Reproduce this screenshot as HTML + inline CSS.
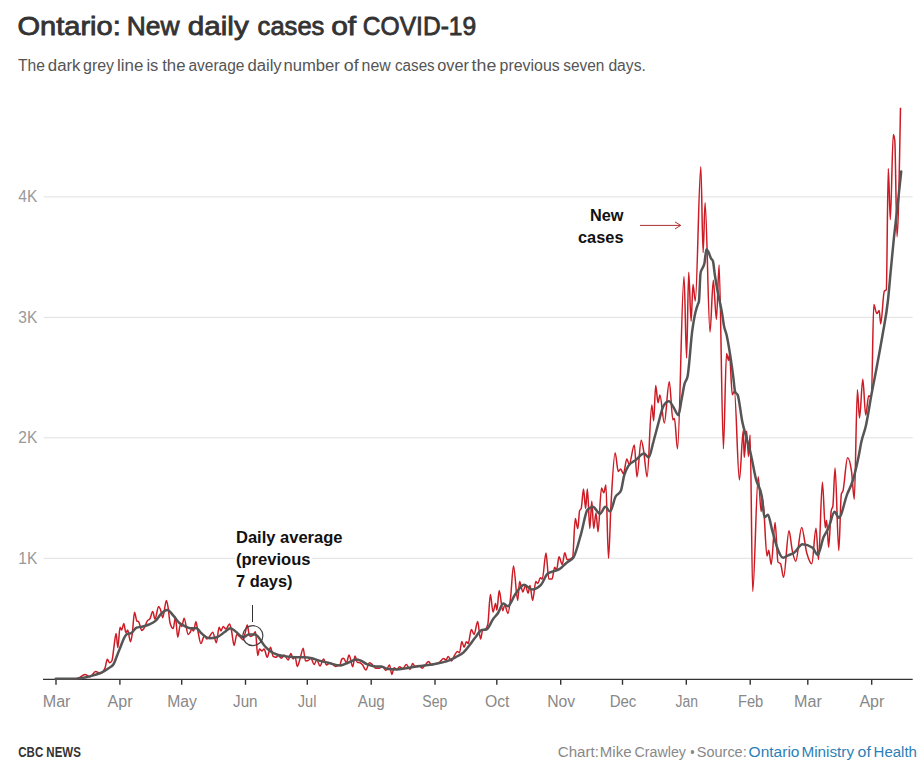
<!DOCTYPE html>
<html><head><meta charset="utf-8">
<style>
html,body{margin:0;padding:0;background:#fff;width:922px;height:770px;overflow:hidden;}
svg{position:absolute;left:0;top:0;}
text{font-family:"Liberation Sans",sans-serif;}
</style></head><body>
<svg width="922" height="770" viewBox="0 0 922 770">
 <g font-weight="normal" fill="#333" stroke="#333" stroke-width="0.8"><text x="17.5" y="34.7" font-size="26" textLength="103.3" lengthAdjust="spacingAndGlyphs">Ontario:</text><text x="126.8" y="34.7" font-size="26" textLength="52.8" lengthAdjust="spacingAndGlyphs">New</text><text x="187.8" y="34.7" font-size="26" textLength="61.0" lengthAdjust="spacingAndGlyphs">daily</text><text x="257.6" y="34.7" font-size="26" textLength="66.8" lengthAdjust="spacingAndGlyphs">cases</text><text x="331.2" y="34.7" font-size="26" textLength="25.0" lengthAdjust="spacingAndGlyphs">of</text><text x="362.8" y="34.7" font-size="26" textLength="113.4" lengthAdjust="spacingAndGlyphs">COVID-19</text></g>
 <g fill="#555"><text x="18.0" y="70.8" font-size="16" textLength="26.9" lengthAdjust="spacingAndGlyphs">The</text><text x="47.8" y="70.8" font-size="16" textLength="32.7" lengthAdjust="spacingAndGlyphs">dark</text><text x="83.0" y="70.8" font-size="16" textLength="31.1" lengthAdjust="spacingAndGlyphs">grey</text><text x="117.0" y="70.8" font-size="16" textLength="26.3" lengthAdjust="spacingAndGlyphs">line</text><text x="146.4" y="70.8" font-size="16" textLength="11.9" lengthAdjust="spacingAndGlyphs">is</text><text x="162.2" y="70.8" font-size="16" textLength="23.3" lengthAdjust="spacingAndGlyphs">the</text><text x="188.4" y="70.8" font-size="16" textLength="56.1" lengthAdjust="spacingAndGlyphs">average</text><text x="247.4" y="70.8" font-size="16" textLength="34.3" lengthAdjust="spacingAndGlyphs">daily</text><text x="283.4" y="70.8" font-size="16" textLength="56.5" lengthAdjust="spacingAndGlyphs">number</text><text x="343.8" y="70.8" font-size="16" textLength="14.9" lengthAdjust="spacingAndGlyphs">of</text><text x="361.6" y="70.8" font-size="16" textLength="29.1" lengthAdjust="spacingAndGlyphs">new</text><text x="395" y="70.8" font-size="16" textLength="39.7" lengthAdjust="spacingAndGlyphs">cases</text><text x="437.2" y="70.8" font-size="16" textLength="31.7" lengthAdjust="spacingAndGlyphs">over</text><text x="471.6" y="70.8" font-size="16" textLength="24.7" lengthAdjust="spacingAndGlyphs">the</text><text x="499.6" y="70.8" font-size="16" textLength="60.1" lengthAdjust="spacingAndGlyphs">previous</text><text x="563.2" y="70.8" font-size="16" textLength="41.1" lengthAdjust="spacingAndGlyphs">seven</text><text x="608.4" y="70.8" font-size="16" textLength="37.5" lengthAdjust="spacingAndGlyphs">days.</text></g>
 <g stroke="#e0e0e0" stroke-width="1">
  <line x1="43.5" y1="196.9" x2="912.7" y2="196.9"/>
  <line x1="43.5" y1="317.4" x2="912.7" y2="317.4"/>
  <line x1="43.5" y1="437.8" x2="912.7" y2="437.8"/>
  <line x1="43.5" y1="558.3" x2="912.7" y2="558.3"/>
 </g>
 <g fill="#999" text-anchor="end">
  <text x="37.3" y="201.6" font-size="16.3" textLength="19" lengthAdjust="spacingAndGlyphs">4K</text>
  <text x="37.3" y="322.8" font-size="16.3" textLength="19" lengthAdjust="spacingAndGlyphs">3K</text>
  <text x="37.3" y="442.9" font-size="16.3" textLength="19" lengthAdjust="spacingAndGlyphs">2K</text>
  <text x="37.3" y="563.8" font-size="16.3" textLength="19" lengthAdjust="spacingAndGlyphs">1K</text>
 </g>
 <line x1="43" y1="679.3" x2="912.7" y2="679.3" stroke="#333" stroke-width="1.2"/>
 <g stroke="#333" stroke-width="1.4">
  <line x1="56.0" y1="679" x2="56.0" y2="684.8"/>
<line x1="119.9" y1="679" x2="119.9" y2="684.8"/>
<line x1="181.7" y1="679" x2="181.7" y2="684.8"/>
<line x1="245.5" y1="679" x2="245.5" y2="684.8"/>
<line x1="307.3" y1="679" x2="307.3" y2="684.8"/>
<line x1="371.2" y1="679" x2="371.2" y2="684.8"/>
<line x1="435.0" y1="679" x2="435.0" y2="684.8"/>
<line x1="496.8" y1="679" x2="496.8" y2="684.8"/>
<line x1="560.7" y1="679" x2="560.7" y2="684.8"/>
<line x1="622.5" y1="679" x2="622.5" y2="684.8"/>
<line x1="686.3" y1="679" x2="686.3" y2="684.8"/>
<line x1="750.2" y1="679" x2="750.2" y2="684.8"/>
<line x1="807.8" y1="679" x2="807.8" y2="684.8"/>
<line x1="871.7" y1="679" x2="871.7" y2="684.8"/>
 </g>
 <g font-size="15.6" fill="#888" text-anchor="middle">
  <text x="56.6" y="706.7" textLength="27.8" lengthAdjust="spacingAndGlyphs">Mar</text>
<text x="120.0" y="706.7" textLength="25" lengthAdjust="spacingAndGlyphs">Apr</text>
<text x="182.0" y="706.7" textLength="29.7" lengthAdjust="spacingAndGlyphs">May</text>
<text x="245.3" y="706.7" textLength="24.5" lengthAdjust="spacingAndGlyphs">Jun</text>
<text x="307.1" y="706.7" textLength="18.6" lengthAdjust="spacingAndGlyphs">Jul</text>
<text x="371.3" y="706.7" textLength="27" lengthAdjust="spacingAndGlyphs">Aug</text>
<text x="434.8" y="706.7" textLength="25" lengthAdjust="spacingAndGlyphs">Sep</text>
<text x="497.2" y="706.7" textLength="24.5" lengthAdjust="spacingAndGlyphs">Oct</text>
<text x="561.2" y="706.7" textLength="28" lengthAdjust="spacingAndGlyphs">Nov</text>
<text x="623.0" y="706.7" textLength="26.7" lengthAdjust="spacingAndGlyphs">Dec</text>
<text x="686.7" y="706.7" textLength="22.5" lengthAdjust="spacingAndGlyphs">Jan</text>
<text x="750.6" y="706.7" textLength="25.4" lengthAdjust="spacingAndGlyphs">Feb</text>
<text x="808.0" y="706.7" textLength="27.8" lengthAdjust="spacingAndGlyphs">Mar</text>
<text x="871.9" y="706.7" textLength="25" lengthAdjust="spacingAndGlyphs">Apr</text>
 </g>
 <path fill="none" stroke="#cc1b24" stroke-width="1.5" stroke-linejoin="round" d="M55.8,679.0 C62.8,679.0 69.9,678.9 76.9,678.8 C79.6,678.7 82.4,674.5 85.1,674.5 C86.6,674.5 88.2,676.9 89.8,676.9 C91.7,676.9 93.7,671.6 95.6,671.6 C97.2,671.6 98.7,673.4 100.3,673.4 C101.9,673.4 103.4,671.6 105.0,668.1 C105.8,666.3 106.5,659.3 107.3,659.3 C108.1,659.3 108.9,662.8 109.6,662.8 C110.4,662.8 111.2,662.1 112.0,660.5 C112.6,659.3 113.2,652.7 113.7,648.8 C114.5,643.7 115.3,633.6 116.1,633.6 C116.7,633.6 117.3,647.6 117.8,647.6 C118.6,647.6 119.3,627.3 120.0,627.3 C120.5,627.3 121.1,630.0 121.6,630.0 C122.4,630.0 123.1,623.6 123.8,623.6 C124.5,623.6 125.2,632.7 125.9,632.7 C126.5,632.7 127.1,630.0 127.7,630.0 C128.6,630.0 129.5,641.8 130.5,641.8 C131.1,641.8 131.7,637.7 132.3,633.6 C133.0,628.6 133.8,612.3 134.5,612.3 C135.3,612.3 136.1,620.2 136.8,620.9 C137.4,621.5 138.0,621.2 138.6,621.8 C139.7,622.9 140.8,630.5 141.8,630.5 C142.6,630.5 143.3,629.3 144.1,628.2 C145.2,626.6 146.2,622.5 147.3,620.9 C148.2,619.5 149.1,620.2 150.0,618.6 C150.9,617.1 151.8,611.4 152.7,611.4 C153.5,611.4 154.2,619.1 155.0,619.1 C156.2,619.1 157.4,606.4 158.6,606.4 C159.2,606.4 159.8,608.0 160.5,609.5 C161.2,611.5 162.0,617.7 162.7,617.7 C163.9,617.7 165.2,600.5 166.4,600.5 C167.0,600.5 167.6,604.5 168.2,608.2 C168.8,611.9 169.4,620.5 170.0,622.7 C171.1,626.7 172.1,628.6 173.2,628.6 C173.9,628.6 174.7,617.3 175.5,617.3 C176.2,617.3 177.0,637.3 177.7,637.3 C178.6,637.3 179.5,624.5 180.5,624.5 C180.9,624.5 181.4,626.4 181.8,626.4 C182.6,626.4 183.3,618.2 184.1,618.2 C185.5,618.2 186.8,634.5 188.2,634.5 C188.8,634.5 189.4,633.6 190.0,632.7 C190.6,631.8 191.2,629.1 191.8,629.1 C192.4,629.1 193.0,630.9 193.6,630.9 C194.4,630.9 195.2,621.8 195.9,621.8 C196.5,621.8 197.1,627.3 197.7,630.0 C198.8,634.7 199.8,643.6 200.9,643.6 C202.1,643.6 203.3,635.5 204.5,635.5 C205.3,635.5 206.1,639.1 206.8,639.1 C207.7,639.1 208.6,637.4 209.5,636.4 C210.6,635.2 211.7,632.3 212.7,632.3 C213.9,632.3 215.2,642.7 216.4,642.7 C217.3,642.7 218.2,627.3 219.1,627.3 C219.7,627.3 220.3,630.9 220.9,630.9 C221.7,630.9 222.4,626.4 223.2,626.4 C224.1,626.4 225.0,629.1 225.9,629.1 C227.1,629.1 228.3,624.1 229.5,624.1 C230.2,624.1 230.8,627.4 231.4,630.0 C232.3,633.8 233.2,645.5 234.1,645.5 C235.0,645.5 235.9,634.5 236.8,634.5 C237.7,634.5 238.6,635.6 239.5,636.4 C240.8,637.3 242.0,640.0 243.2,640.0 C243.8,640.0 244.4,635.8 245.0,633.6 C245.8,630.9 246.5,625.0 247.3,625.0 C247.9,625.0 248.5,632.9 249.1,634.5 C249.5,635.8 250.0,636.4 250.5,636.4 C251.2,636.4 252.0,636.1 252.7,635.5 C253.6,634.7 254.5,631.8 255.5,631.8 C256.2,631.8 257.0,655.5 257.7,655.5 C258.3,655.5 258.9,649.1 259.5,649.1 C260.3,649.1 261.1,650.9 261.8,650.9 C262.6,650.9 263.3,649.1 264.1,649.1 C265.2,649.1 266.2,657.3 267.3,657.3 C268.3,657.3 269.4,647.3 270.5,647.3 C271.4,647.3 272.3,655.8 273.2,656.4 C274.1,657.0 275.0,657.3 275.9,657.3 C276.7,657.3 277.4,655.5 278.2,655.5 C279.2,655.5 280.3,658.2 281.4,658.2 C282.3,658.2 283.2,655.0 284.1,655.0 C285.5,655.0 286.8,660.0 288.2,660.0 C289.1,660.0 290.0,653.6 290.9,653.6 C291.7,653.6 292.4,659.1 293.2,659.1 C293.8,659.1 294.4,656.4 295.0,656.4 C295.8,656.4 296.5,666.4 297.3,666.4 C298.2,666.4 299.1,661.8 300.0,659.1 C301.1,655.9 302.1,648.2 303.2,648.2 C303.9,648.2 304.7,660.9 305.5,660.9 C306.4,660.9 307.3,660.8 308.2,660.5 C309.1,660.2 310.0,658.2 310.9,658.2 C312.0,658.2 313.0,664.5 314.1,664.5 C315.0,664.5 315.9,660.0 316.8,660.0 C317.9,660.0 318.9,665.9 320.0,665.9 C321.2,665.9 322.4,659.1 323.6,659.1 C324.5,659.1 325.5,665.0 326.4,665.0 C327.6,665.0 328.8,662.7 330.0,662.7 C331.8,662.7 333.6,666.4 335.5,666.4 C337.0,666.4 338.5,665.8 340.0,664.5 C340.6,664.1 341.2,659.7 341.8,659.1 C342.4,658.5 343.0,658.2 343.6,658.2 C344.5,658.2 345.5,662.7 346.4,662.7 C347.3,662.7 348.2,655.0 349.1,655.0 C350.3,655.0 351.5,666.8 352.7,666.8 C353.5,666.8 354.2,655.9 355.0,655.9 C355.8,655.9 356.5,662.0 357.3,662.3 C358.2,662.6 359.1,662.4 360.0,662.7 C360.8,663.0 361.5,663.7 362.3,664.5 C363.5,665.8 364.7,670.0 365.9,670.0 C367.1,670.0 368.3,662.7 369.5,662.7 C370.5,662.7 371.4,663.7 372.3,664.5 C373.3,665.5 374.4,668.2 375.5,668.2 C376.8,668.2 378.2,668.2 379.5,668.2 C380.5,668.2 381.4,666.4 382.3,666.4 C383.5,666.4 384.7,670.5 385.9,670.5 C387.1,670.5 388.3,665.0 389.5,665.0 C390.3,665.0 391.1,674.5 391.8,674.5 C392.6,674.5 393.3,667.7 394.1,667.7 C395.0,667.7 395.9,669.5 396.8,669.5 C397.7,669.5 398.6,666.8 399.5,666.8 C400.6,666.8 401.7,668.6 402.7,668.6 C403.9,668.6 405.2,664.5 406.4,664.5 C407.6,664.5 408.8,669.5 410.0,669.5 C410.9,669.5 411.8,663.6 412.7,663.6 C413.5,663.6 414.2,666.4 415.0,666.4 C416.2,666.4 417.4,665.5 418.6,665.5 C419.8,665.5 421.1,668.2 422.3,668.2 C423.3,668.2 424.4,665.7 425.5,664.5 C426.5,663.4 427.6,661.4 428.6,661.4 C429.5,661.4 430.5,665.0 431.4,665.0 C433.0,665.0 434.7,664.3 436.4,663.6 C437.6,663.1 438.8,662.7 440.0,661.8 C441.2,661.0 442.4,658.6 443.6,658.6 C444.4,658.6 445.2,660.0 445.9,660.0 C446.7,660.0 447.4,656.4 448.2,656.4 C449.2,656.4 450.3,660.9 451.4,660.9 C452.4,660.9 453.5,657.2 454.5,655.5 C455.5,654.0 456.4,651.4 457.3,651.4 C458.0,651.4 458.8,652.7 459.5,652.7 C460.3,652.7 461.1,641.4 461.8,641.4 C462.6,641.4 463.3,647.3 464.1,647.3 C464.8,647.3 465.6,641.8 466.4,641.8 C467.0,641.8 467.6,643.6 468.2,643.6 C469.2,643.6 470.3,629.5 471.4,629.5 C472.3,629.5 473.2,634.5 474.1,634.5 C475.3,634.5 476.5,621.4 477.7,621.4 C478.6,621.4 479.5,639.1 480.5,639.1 C481.2,639.1 482.0,630.5 482.7,630.0 C483.6,629.4 484.5,629.7 485.5,629.1 C486.2,628.6 487.0,627.5 487.8,624.4 C488.7,621.0 489.5,594.5 490.4,594.5 C491.3,594.5 492.1,612.1 493.0,612.1 C493.9,612.1 494.7,603.6 495.6,603.6 C496.0,603.6 496.5,610.1 496.9,610.1 C497.7,610.1 498.4,590.6 499.2,590.6 C500.4,590.6 501.6,610.8 502.7,610.8 C503.4,610.8 504.0,604.9 504.7,604.9 C505.8,604.9 506.8,613.4 507.9,613.4 C508.8,613.4 509.7,605.5 510.5,598.4 C511.5,590.3 512.5,566.0 513.5,566.0 C514.9,566.0 516.3,600.4 517.7,600.4 C518.3,600.4 519.0,581.6 519.6,581.6 C520.7,581.6 521.8,591.9 522.9,591.9 C523.7,591.9 524.6,585.5 525.5,585.5 C526.3,585.5 527.2,593.2 528.1,593.2 C528.7,593.2 529.4,585.5 530.0,585.5 C530.9,585.5 531.7,600.4 532.6,600.4 C533.7,600.4 534.8,581.6 535.8,581.6 C536.5,581.6 537.1,583.5 537.8,583.5 C538.7,583.5 539.5,577.7 540.4,577.7 C541.0,577.7 541.7,579.0 542.3,579.0 C543.5,579.0 544.8,553.0 546.0,553.0 C546.9,553.0 547.9,579.0 548.8,579.0 C549.9,579.0 551.0,579.0 552.1,579.0 C552.9,579.0 553.8,567.3 554.7,567.3 C555.3,567.3 556.0,569.9 556.6,569.9 C557.4,569.9 558.2,556.7 559.0,556.7 C560.1,556.7 561.1,564.5 562.2,564.5 C563.1,564.5 563.9,552.8 564.8,552.8 C565.6,552.8 566.4,559.8 567.2,559.8 C569.0,559.8 570.8,559.1 572.6,557.5 C573.5,556.7 574.4,518.5 575.3,518.5 C576.1,518.5 576.9,528.6 577.8,528.6 C578.4,528.6 579.0,512.6 579.6,510.7 C580.2,509.1 580.7,509.9 581.2,508.4 C582.0,506.0 582.8,488.9 583.5,488.9 C584.2,488.9 584.9,508.4 585.6,508.4 C586.2,508.4 586.8,488.9 587.4,488.9 C588.2,488.9 589.0,528.6 589.8,528.6 C590.5,528.6 591.1,501.3 591.8,501.3 C592.4,501.3 593.1,528.6 593.7,528.6 C594.5,528.6 595.2,513.0 596.0,513.0 C596.7,513.0 597.4,531.8 598.0,531.8 C599.2,531.8 600.3,488.1 601.5,488.1 C602.3,488.1 603.0,492.8 603.8,492.8 C604.5,492.8 605.2,485.0 605.9,485.0 C606.7,485.0 607.6,558.3 608.5,558.3 C609.3,558.3 610.1,522.7 610.8,508.4 C612.3,482.0 613.7,452.7 615.1,452.7 C616.2,452.7 617.2,471.4 618.3,471.4 C619.0,471.4 619.8,469.1 620.6,469.1 C621.5,469.1 622.5,473.7 623.4,473.7 C624.6,473.7 625.7,458.9 626.8,458.9 C627.6,458.9 628.4,464.4 629.2,464.4 C630.9,464.4 632.6,444.9 634.3,444.9 C635.2,444.9 636.1,476.9 637.0,476.9 C638.4,476.9 639.8,440.2 641.2,440.2 C642.0,440.2 642.9,446.4 643.7,451.1 C644.8,457.6 646.0,476.9 647.1,476.9 C648.7,476.9 650.2,405.1 651.8,405.1 C652.4,405.1 653.0,420.7 653.7,420.7 C654.3,420.7 655.0,385.6 655.7,385.6 C656.5,385.6 657.3,402.8 658.0,402.8 C658.7,402.8 659.3,395.0 659.9,395.0 C661.4,395.0 662.8,423.0 664.3,423.0 C665.9,423.0 667.6,381.7 669.3,381.7 C670.5,381.7 671.7,419.9 672.9,419.9 C673.4,419.9 673.9,418.4 674.4,418.4 C675.5,418.4 676.5,448.8 677.5,448.8 C679.7,448.8 681.8,276.6 684.0,276.6 C684.9,276.6 685.7,358.0 686.6,358.0 C687.3,358.0 688.0,272.3 688.7,272.3 C689.5,272.3 690.3,321.3 691.1,321.3 C691.7,321.3 692.4,284.4 693.0,284.4 C693.8,284.4 694.5,301.0 695.3,301.0 C697.1,301.0 699.0,166.7 700.8,166.7 C701.6,166.7 702.3,252.5 703.1,252.5 C703.8,252.5 704.4,202.8 705.1,202.8 C706.7,202.8 708.4,332.0 710.0,332.0 C711.1,332.0 712.2,280.3 713.3,280.3 C714.3,280.3 715.4,319.3 716.4,319.3 C717.3,319.3 718.2,265.0 719.1,265.0 C720.5,265.0 722.0,448.7 723.4,448.7 C724.4,448.7 725.5,353.4 726.5,353.4 C727.2,353.4 727.8,360.3 728.5,360.3 C728.8,360.3 729.2,354.4 729.5,354.4 C730.4,354.4 731.4,394.8 732.3,394.8 C733.0,394.8 733.7,391.3 734.4,391.3 C736.1,391.3 737.7,479.9 739.4,479.9 C740.7,479.9 742.0,430.2 743.3,430.2 C743.6,430.2 743.9,457.5 744.2,457.5 C745.0,457.5 745.8,431.2 746.6,431.2 C747.2,431.2 747.9,456.5 748.5,456.5 C749.0,456.5 749.6,435.0 750.1,435.0 C751.0,435.0 751.8,591.6 752.7,591.6 C754.5,591.6 756.4,476.8 758.2,476.8 C759.2,476.8 760.2,511.4 761.1,511.4 C761.7,511.4 762.2,499.6 762.8,499.6 C764.2,499.6 765.6,556.1 767.0,556.1 C767.6,556.1 768.2,550.2 768.7,550.2 C769.6,550.2 770.4,564.6 771.2,564.6 C772.5,564.6 773.8,522.4 775.1,522.4 C776.1,522.4 777.0,560.8 778.0,562.1 C778.9,563.2 779.7,562.6 780.5,563.8 C781.6,565.1 782.6,577.3 783.6,577.3 C785.4,577.3 787.2,530.8 789.0,530.8 C790.1,530.8 791.2,546.0 792.4,551.1 C793.5,556.1 794.6,561.2 795.7,561.2 C797.7,561.2 799.7,527.4 801.7,527.4 C803.3,527.4 805.0,546.7 806.7,552.8 C808.4,558.8 810.1,563.8 811.8,563.8 C813.2,563.8 814.6,528.3 816.0,528.3 C816.9,528.3 817.7,559.5 818.5,559.5 C819.8,559.5 821.1,482.2 822.4,482.2 C823.4,482.2 824.3,527.8 825.3,527.8 C825.7,527.8 826.2,520.2 826.6,520.2 C827.3,520.2 828.0,547.3 828.6,547.3 C829.5,547.3 830.3,516.0 831.2,510.9 C831.7,507.6 832.3,509.3 832.9,505.9 C833.6,501.5 834.3,467.9 835.1,467.9 C836.3,467.9 837.5,550.6 838.8,550.6 C839.6,550.6 840.5,497.4 841.3,494.1 C841.9,491.8 842.4,492.6 843.0,490.7 C844.5,485.5 846.0,457.7 847.6,457.7 C848.9,457.7 850.2,462.2 851.5,471.2 C852.4,477.9 853.4,499.1 854.3,499.1 C855.3,499.1 856.4,389.7 857.4,389.7 C858.1,389.7 858.8,418.1 859.5,418.1 C860.6,418.1 861.7,379.3 862.8,379.3 C863.8,379.3 864.7,415.1 865.7,415.1 C866.7,415.1 867.7,395.7 868.7,395.7 C869.6,395.7 870.5,397.2 871.4,397.2 C872.2,397.2 873.0,304.6 873.8,304.6 C874.8,304.6 875.8,313.6 876.8,313.6 C877.6,313.6 878.4,310.6 879.2,310.6 C879.7,310.6 880.2,324.0 880.7,324.0 C881.9,324.0 883.1,293.0 884.3,291.2 C885.0,290.2 885.6,290.7 886.3,289.7 C887.0,288.7 887.6,168.5 888.3,168.5 C889.0,168.5 889.6,219.6 890.3,219.6 C891.3,219.6 892.3,134.5 893.3,134.5 C893.8,134.5 894.3,136.5 894.8,140.5 C895.5,146.4 896.3,236.8 897.0,236.8 C898.2,236.8 899.3,172.2 900.5,107.7"/>
 <path fill="none" stroke="#555" stroke-width="2.5" stroke-linejoin="round" stroke-linecap="round" d="M55.8,678.8 C62.8,678.8 69.9,678.7 76.9,678.6 C79.6,678.5 82.3,678.0 85.0,677.5 C87.8,677.0 90.6,676.2 93.4,675.4 C96.2,674.5 99.1,673.8 101.9,672.4 C104.1,671.3 106.4,669.8 108.6,668.2 C110.3,666.9 112.0,666.8 113.7,664.0 C114.8,662.1 116.0,658.3 117.1,655.5 C118.1,653.1 119.0,650.5 120.0,648.2 C122.1,643.1 124.2,636.0 126.4,634.5 C128.2,633.3 130.0,633.9 131.8,632.7 C133.3,631.7 134.8,628.2 136.4,627.7 C138.2,627.1 140.0,627.2 141.8,626.8 C144.2,626.3 146.7,625.6 149.1,624.5 C151.2,623.6 153.3,622.9 155.5,620.9 C157.3,619.2 159.1,615.9 160.9,614.1 C163.0,612.0 165.2,610.0 167.3,610.0 C169.4,610.0 171.5,613.6 173.6,615.9 C175.5,617.9 177.3,621.1 179.1,622.7 C180.3,623.8 181.5,624.3 182.7,625.0 C185.2,626.4 187.6,628.2 190.0,628.2 C192.3,628.2 194.5,628.2 196.8,628.2 C198.0,628.2 199.2,631.1 200.5,632.3 C203.5,635.3 206.5,638.2 209.5,638.2 C212.0,638.2 214.4,637.9 216.8,637.3 C219.5,636.6 222.3,633.6 225.0,631.8 C226.8,630.6 228.6,628.2 230.5,628.2 C232.3,628.2 234.1,630.5 235.9,631.8 C238.3,633.5 240.8,637.3 243.2,637.3 C245.0,637.3 246.8,634.5 248.6,634.5 C250.8,634.5 252.9,634.5 255.0,634.5 C258.3,634.5 261.7,643.0 265.0,646.4 C266.7,648.0 268.3,649.7 270.0,650.9 C272.7,653.0 275.5,654.2 278.2,655.0 C281.2,655.9 284.2,656.0 287.3,656.4 C290.3,656.7 293.3,657.3 296.4,657.3 C298.8,657.3 301.2,657.3 303.6,657.3 C306.4,657.3 309.1,657.6 311.8,658.2 C314.5,658.8 317.3,660.2 320.0,660.9 C322.7,661.7 325.5,662.1 328.2,662.7 C332.1,663.6 336.1,665.5 340.0,665.5 C342.0,665.5 343.9,664.3 345.9,663.6 C349.5,662.4 353.2,659.5 356.8,659.5 C358.0,659.5 359.2,660.0 360.5,660.5 C362.6,661.2 364.7,663.2 366.8,664.1 C369.8,665.4 372.9,666.4 375.9,666.4 C377.7,666.4 379.5,666.4 381.4,666.4 C383.5,666.4 385.6,668.9 387.7,669.1 C390.8,669.4 393.8,669.5 396.8,669.5 C399.8,669.5 402.9,668.6 405.9,668.2 C408.9,667.7 412.0,667.3 415.0,666.8 C419.4,666.2 423.8,665.6 428.2,665.0 C431.2,664.6 434.2,664.2 437.3,663.6 C440.3,663.0 443.3,662.4 446.4,661.4 C449.4,660.3 452.4,658.9 455.5,657.3 C458.2,655.8 460.9,654.9 463.6,652.3 C465.8,650.3 467.9,647.3 470.0,644.5 C471.8,642.2 473.6,639.5 475.5,637.3 C477.6,634.6 479.7,630.4 481.8,630.0 C483.3,629.7 484.8,629.8 486.4,629.5 C488.6,629.1 490.8,622.3 493.0,619.2 C494.7,616.8 496.5,615.3 498.2,612.7 C499.9,610.1 501.6,603.6 503.4,603.6 C504.9,603.6 506.4,606.2 507.9,606.2 C510.3,606.2 512.7,597.8 515.1,594.5 C518.1,590.3 521.1,584.8 524.2,584.8 C526.8,584.8 529.4,589.4 531.9,589.4 C535.0,589.4 538.0,587.8 541.0,584.8 C543.2,582.6 545.4,575.5 547.5,573.8 C549.7,572.0 551.9,572.0 554.0,571.2 C555.8,570.5 557.6,570.2 559.4,569.2 C562.0,567.7 564.6,564.3 567.2,562.2 C569.2,560.5 571.3,560.6 573.4,557.5 C576.0,553.6 578.6,542.3 581.2,533.3 C583.3,526.1 585.4,512.3 587.4,509.9 C589.3,507.8 591.1,506.8 592.9,506.8 C595.2,506.8 597.6,513.8 599.9,513.8 C601.7,513.8 603.6,506.8 605.4,506.8 C606.9,506.8 608.5,511.5 610.1,511.5 C611.9,511.5 613.7,500.2 615.5,496.7 C617.3,493.2 619.2,494.6 621.0,490.4 C622.0,488.0 623.1,479.4 624.1,475.6 C625.5,470.3 627.0,468.2 628.4,465.9 C631.0,461.8 633.6,461.8 636.2,459.7 C638.8,457.6 641.4,453.5 644.0,453.5 C645.6,453.5 647.1,457.4 648.7,457.4 C650.2,457.4 651.8,447.2 653.4,441.8 C654.9,436.3 656.5,430.2 658.0,424.6 C659.9,418.1 661.7,409.0 663.5,405.9 C665.3,402.8 667.1,401.2 669.0,401.2 C670.5,401.2 672.1,405.1 673.6,407.4 C675.2,409.8 676.8,415.2 678.3,415.2 C679.4,415.2 680.4,405.4 681.5,400.0 C682.5,394.9 683.5,388.0 684.5,384.1 C685.5,380.0 686.6,381.5 687.6,376.3 C689.1,368.6 690.7,342.7 692.2,331.2 C693.3,323.2 694.3,317.2 695.4,312.5 C696.2,309.1 696.9,306.9 697.7,304.7 C698.1,303.5 698.5,303.6 698.9,301.5 C699.5,298.5 700.0,275.4 700.6,272.7 C701.2,269.6 701.9,269.7 702.5,268.1 C703.2,266.4 703.8,266.2 704.5,262.9 C705.1,259.8 705.8,249.3 706.4,249.3 C707.1,249.3 707.7,250.7 708.4,251.9 C709.3,253.5 710.1,256.8 711.0,258.4 C711.6,259.6 712.3,259.3 712.9,261.0 C713.6,262.8 714.2,270.9 714.9,275.3 C715.8,281.0 716.6,286.0 717.5,290.8 C719.0,299.2 720.5,303.9 722.0,312.9 C722.7,316.9 723.3,322.4 724.0,325.9 C724.9,330.4 725.7,331.2 726.6,335.0 C727.9,340.5 729.1,348.2 730.4,356.4 C731.3,362.5 732.3,369.4 733.2,376.4 C733.9,381.4 734.5,390.4 735.2,392.0 C736.0,394.0 736.9,393.0 737.7,395.0 C739.2,398.7 740.8,414.4 742.3,421.8 C743.7,428.5 745.1,432.6 746.5,438.0 C748.0,443.9 749.6,448.9 751.1,455.5 C752.7,462.4 754.3,472.5 755.9,478.9 C757.9,486.8 759.8,484.8 761.8,496.5 C762.7,501.9 763.6,517.3 764.5,517.3 C765.6,517.3 766.7,514.8 767.9,514.8 C769.3,514.8 770.7,525.0 772.1,530.0 C773.8,536.0 775.5,543.2 777.2,547.7 C779.1,553.0 781.1,557.8 783.1,557.8 C784.8,557.8 786.5,556.1 788.1,555.3 C790.1,554.4 792.1,554.1 794.1,552.8 C796.9,550.9 799.7,544.3 802.5,544.3 C805.9,544.3 809.3,545.5 812.6,547.7 C814.3,548.8 816.0,554.9 817.7,554.9 C819.6,554.9 821.6,541.8 823.6,537.1 C825.3,533.1 827.0,531.6 828.6,527.8 C830.6,523.4 832.6,511.8 834.6,511.8 C836.0,511.8 837.4,517.7 838.8,517.7 C841.6,517.7 844.4,501.3 847.2,494.1 C849.2,489.0 851.2,486.3 853.1,479.7 C854.8,474.0 856.5,466.7 858.2,458.6 C859.3,453.3 860.4,446.2 861.5,441.3 C863.0,434.7 864.4,432.3 865.9,425.8 C867.7,417.6 869.6,404.8 871.4,394.9 C873.2,385.0 875.1,376.0 876.9,366.2 C878.8,356.2 880.6,346.4 882.5,335.3 C884.3,324.4 886.2,316.8 888.0,300.0 C889.0,291.1 889.9,279.4 890.9,269.2 C891.9,258.7 892.9,247.6 893.9,238.0 C894.9,228.8 895.8,221.3 896.8,212.6 C898.3,199.4 899.7,185.5 901.2,171.5"/>
 <g font-weight="bold" fill="#111" stroke="#fff" stroke-width="4" paint-order="stroke" stroke-linejoin="round">
  <text x="236" y="542.6" font-size="16" textLength="106.5" lengthAdjust="spacingAndGlyphs">Daily average</text>
  <text x="236" y="565.2" font-size="16" textLength="74.5" lengthAdjust="spacingAndGlyphs">(previous</text>
  <text x="236" y="587.1" font-size="16" textLength="56.5" lengthAdjust="spacingAndGlyphs">7 days)</text>
  <text x="590" y="221.1" font-size="16" textLength="33.5" lengthAdjust="spacingAndGlyphs">New</text>
  <text x="578" y="243.0" font-size="16" textLength="45.5" lengthAdjust="spacingAndGlyphs">cases</text>
 </g>
 <line x1="252.5" y1="605" x2="252.5" y2="622" stroke="#333" stroke-width="1"/>
 <circle cx="252.9" cy="635.7" r="10" fill="none" stroke="#444" stroke-width="1.2"/>
 <g stroke="#b03030" stroke-width="1" fill="none">
  <line x1="640" y1="225.4" x2="680.7" y2="225.4"/>
  <polyline points="675,221.9 680.7,225.4 675,228.9"/>
 </g>
 <g font-weight="bold" fill="#333"><text x="18.3" y="756.7" font-size="14" textLength="62.5" lengthAdjust="spacingAndGlyphs">CBC NEWS</text></g>
 <text x="557.8" y="756.5" font-size="14" fill="#888" textLength="41.1" lengthAdjust="spacingAndGlyphs">Chart:</text><text x="599.8" y="756.5" font-size="14" fill="#888" textLength="31.7" lengthAdjust="spacingAndGlyphs">Mike</text><text x="634.6" y="756.5" font-size="14" fill="#888" textLength="51.3" lengthAdjust="spacingAndGlyphs">Crawley</text><text x="690.2" y="756.5" font-size="14" fill="#888" textLength="4.3" lengthAdjust="spacingAndGlyphs">•</text><text x="696.8" y="756.5" font-size="14" fill="#888" textLength="49.9" lengthAdjust="spacingAndGlyphs">Source:</text><text x="748.6" y="756.5" font-size="14" fill="#2c7fb8" textLength="50.9" lengthAdjust="spacingAndGlyphs">Ontario</text><text x="801.4" y="756.5" font-size="14" fill="#2c7fb8" textLength="52.7" lengthAdjust="spacingAndGlyphs">Ministry</text><text x="857.6" y="756.5" font-size="14" fill="#2c7fb8" textLength="13.3" lengthAdjust="spacingAndGlyphs">of</text><text x="873.6" y="756.5" font-size="14" fill="#2c7fb8" textLength="43.3" lengthAdjust="spacingAndGlyphs">Health</text>
</svg>
</body></html>
